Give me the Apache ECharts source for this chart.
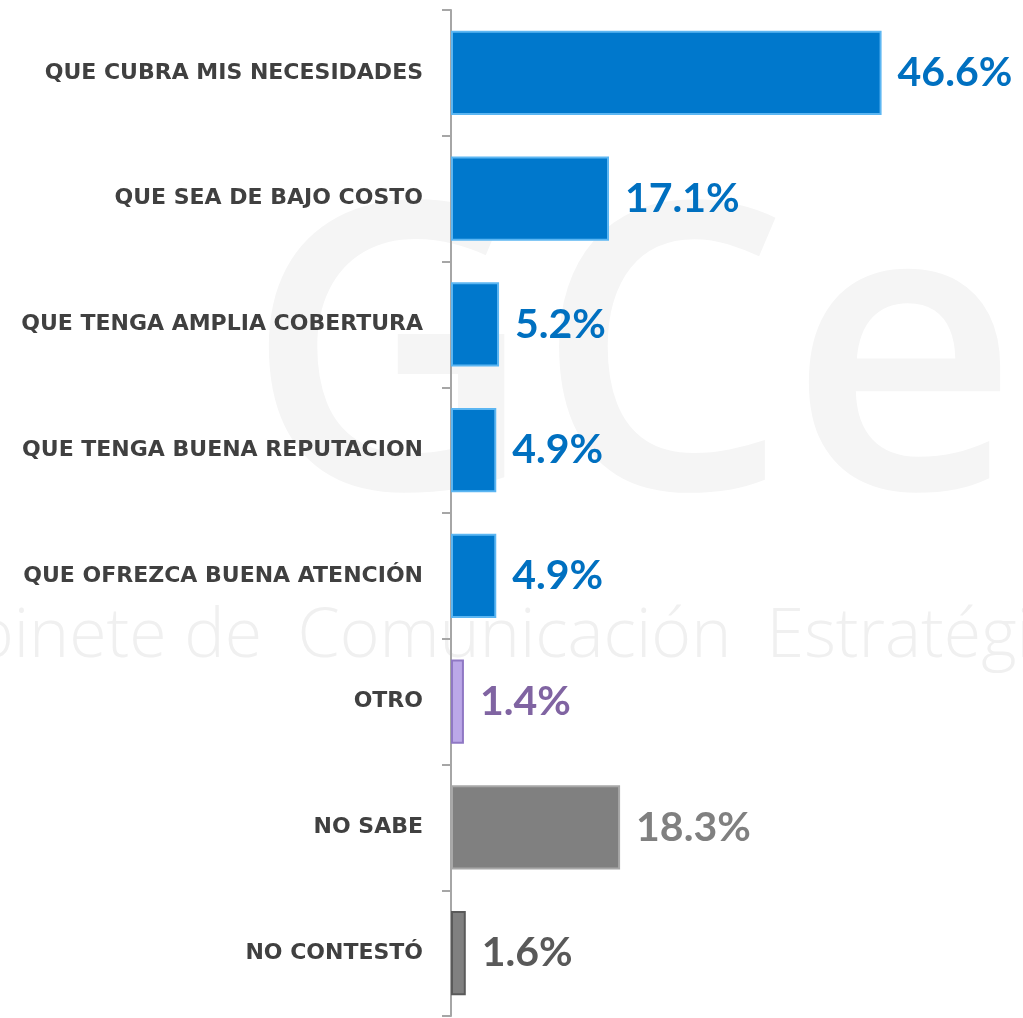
<!DOCTYPE html>
<html>
<head>
<meta charset="utf-8">
<script src="https://cdn.jsdelivr.net/npm/echarts@6/dist/echarts.min.js"></script>
<style>
  html, body { margin: 0; padding: 0; background: #fff; }
  #chart { width: 1023px; height: 1018px; }
</style>
</head>
<body>
<div id="chart"></div>
<script>
const categories = [
    'QUE CUBRA MIS NECESIDADES',
    'QUE SEA DE BAJO COSTO',
    'QUE TENGA AMPLIA COBERTURA',
    'QUE TENGA BUENA REPUTACION',
    'QUE OFREZCA BUENA ATENCIÓN',
    'OTRO',
    'NO SABE',
    'NO CONTESTÓ'
]
const values = [46.6, 17.1, 5.2, 4.9, 4.9, 1.4, 18.3, 1.6]

// colour per bar: fill, edge, label
const barColors = ['#0078CC', '#0078CC', '#0078CC', '#0078CC', '#0078CC', '#BBA8E8', '#808080', '#808080']
const edgeColors = ['#5CB6F2', '#5CB6F2', '#5CB6F2', '#5CB6F2', '#5CB6F2', '#8F78C4', '#A8A8A8', '#5A5A5A']
const labelColors = ['#0070C0', '#0070C0', '#0070C0', '#0070C0', '#0070C0', '#8064A2', '#808080', '#595959']

const myChart = echarts.init(document.getElementById('chart'))

const data = values.map((v, i) => ({
    value: v,
    itemStyle: {
        color: barColors[i],
        borderColor: edgeColors[i],
        borderWidth: 2
    },
    label: { color: labelColors[i] }
}))

const option = {
    animation: false,
    textStyle: { fontFamily: 'DejaVu Sans' },
    // faint watermark behind the bars
    graphic: [
        {
            type: 'text',
            z: -10,
            left: -112,
            top: 604,
            style: {
                text: 'Gabinete de  Comunicación  Estratégica',
                font: '300 68px "Open Sans"',
                fill: '#f0f0f0'
            }
        },
        {
            type: 'text',
            z: -10,
            left: 245,
            top: 175,
            style: {
                text: 'GCe',
                font: '600 400px "Open Sans"',
                fill: '#f5f5f5'
            }
        }
    ],
    grid: {
        left: 451,
        right: 110,
        top: 10,
        bottom: 2
    },
    xAxis: {
        type: 'value',
        min: 0,
        max: 50,
        show: false
    },
    yAxis: {
        type: 'category',
        inverse: true,
        data: categories,
        axisLine: { lineStyle: { color: '#A6A6A6', width: 2 } },
        axisTick: { show: true, length: 9, lineStyle: { color: '#A6A6A6', width: 2 } },
        axisLabel: {
            margin: 28,
            color: '#404040',
            fontWeight: 'bold',
            fontSize: 22,
            fontFamily: 'DejaVu Sans'
        }
    },
    series: [
        {
            type: 'bar',
            data,
            barCategoryGap: '33%',
            label: {
                show: true,
                position: 'right',
                distance: 16,
                fontSize: 41,
                fontWeight: 'bold',
                fontFamily: 'Lato',
                formatter: p => p.value.toFixed(1) + '%'
            }
        }
    ]
}

myChart.setOption(option)
</script>
</body>
</html>
